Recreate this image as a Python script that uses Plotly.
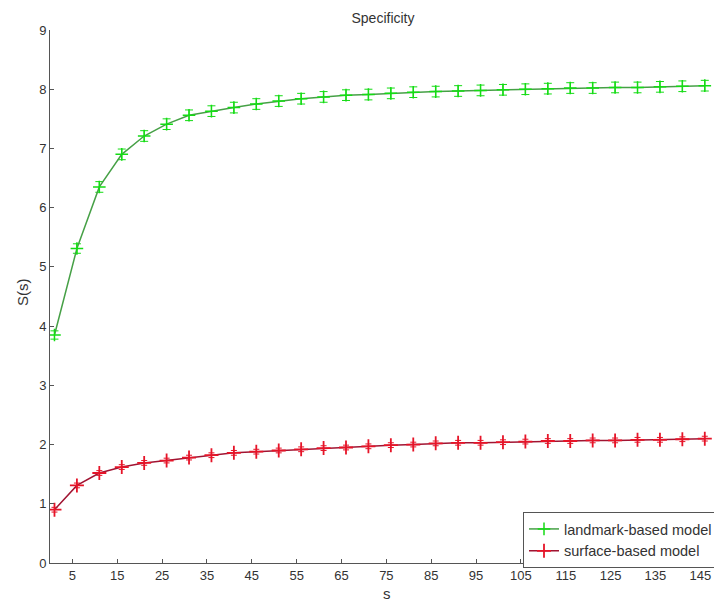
import plotly.graph_objects as go

s_values = [1, 6, 11, 16, 21, 26, 31, 36, 41, 46, 51, 56, 61, 66, 71, 76, 81, 86,
            91, 96, 101, 106, 111, 116, 121, 126, 131, 136, 141, 146]

landmark = [3.85, 5.31, 6.35, 6.90, 7.21, 7.41, 7.56, 7.63, 7.69, 7.75, 7.80, 7.84,
            7.87, 7.90, 7.91, 7.93, 7.95, 7.96, 7.97, 7.98, 7.99, 8.00, 8.01, 8.02,
            8.02, 8.03, 8.03, 8.04, 8.05, 8.06]
landmark_err = [0.07, 0.08, 0.09, 0.09, 0.09, 0.09, 0.09, 0.09, 0.09, 0.09, 0.09, 0.09,
                0.09, 0.09, 0.09, 0.09, 0.09, 0.09, 0.09, 0.09, 0.09, 0.09, 0.09, 0.09,
                0.09, 0.09, 0.09, 0.09, 0.09, 0.09]

surface = [0.90, 1.31, 1.52, 1.62, 1.69, 1.73, 1.78, 1.82, 1.86, 1.88, 1.90, 1.92,
           1.94, 1.95, 1.97, 1.99, 2.00, 2.02, 2.03, 2.03, 2.04, 2.05, 2.06, 2.06,
           2.07, 2.07, 2.08, 2.08, 2.09, 2.10]
surface_err = [0.04] * 30

x_ticks = [5, 15, 25, 35, 45, 55, 65, 75, 85, 95, 105, 115, 125, 135, 145]
y_ticks = [0, 1, 2, 3, 4, 5, 6, 7, 8, 9]

FONT = "Liberation Sans, Arial, Helvetica, sans-serif"

# The page body has an 8px margin, so the figure is sized to fit the window.
W, H = 714, 594
L, R, T, B = 42, 6, 22, 39
PW, PH = W - L - R, H - T - B

fig = go.Figure()
fig.add_trace(go.Scatter(
    x=s_values, y=landmark, name="landmark-based model",
    mode="lines+markers",
    line=dict(color="rgb(70,160,70)", width=1.5),
    marker=dict(symbol="cross-thin", size=9, line=dict(color="rgb(20,220,20)", width=1.5)),
    error_y=dict(type="data", array=landmark_err, color="rgb(20,220,20)", thickness=1, width=4),
))
fig.add_trace(go.Scatter(
    x=s_values, y=surface, name="surface-based model",
    mode="lines+markers",
    line=dict(color="rgb(160,20,50)", width=1.5),
    marker=dict(symbol="cross-thin", size=10, line=dict(color="rgb(230,20,40)", width=1.8)),
    error_y=dict(type="data", array=surface_err, color="rgb(230,20,40)", thickness=1, width=3),
))

axis_common = dict(
    showline=True, linecolor="#555555", linewidth=1,
    ticks="inside", ticklen=4, tickcolor="#555555",
    showgrid=False, zeroline=False, mirror=False, automargin=False,
    tickfont=dict(family=FONT, size=13, color="#333333"),
)

fig.update_layout(
    width=W, height=H,
    margin=dict(l=L, r=R, t=T, b=B, autoexpand=False),
    paper_bgcolor="white", plot_bgcolor="white",
    font=dict(family=FONT, size=13, color="#333333"),
    title=dict(text="Specificity", x=(L + PW / 2) / W, xanchor="center",
               y=1 - 10 / H, yanchor="middle", yref="container",
               font=dict(family=FONT, size=14, color="#333333")),
    xaxis=dict(range=[0, 148.5], tickvals=x_ticks, **axis_common),
    yaxis=dict(range=[0, 9], tickvals=y_ticks, **axis_common),
    legend=dict(x=(710 - L) / PW, xanchor="right", y=(555 - 504) / PH, yanchor="top",
                bgcolor="white", bordercolor="#555555", borderwidth=1,
                font=dict(family=FONT, size=14.5, color="#333333"),
                tracegroupgap=0, itemwidth=30),
    showlegend=True,
    annotations=[
        dict(text="s", xref="paper", yref="paper", x=(379 - L) / PW, y=-(585 - 555) / PH,
             xanchor="center", yanchor="middle", showarrow=False,
             font=dict(family=FONT, size=15, color="#333333")),
        dict(text="S(s)", xref="paper", yref="paper", x=-(L - 14) / PW, y=(555 - 284) / PH,
             xanchor="center", yanchor="middle", showarrow=False, textangle=-90,
             font=dict(family=FONT, size=15, color="#333333")),
    ],
)

fig.write_html("out.html")
